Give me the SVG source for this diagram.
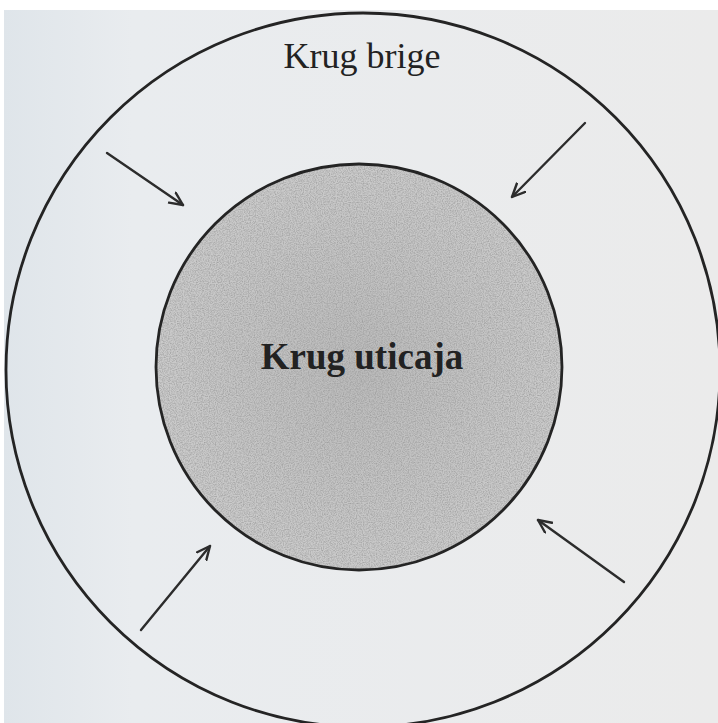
<svg xmlns="http://www.w3.org/2000/svg" width="718" height="723" viewBox="0 0 718 723">
  <style>
    .ring { fill: none; stroke: #242424; stroke-width: 2.8; }
    .arrow { fill: none; stroke: #2c2c2c; stroke-width: 2.4; stroke-linecap: round; marker-end: url(#vhead); }
    .label { font-family: "Liberation Serif", "DejaVu Serif", serif; fill: #222222; text-anchor: middle; }
  </style>
  <defs>
    <marker id="vhead" markerUnits="userSpaceOnUse" markerWidth="18" markerHeight="16" refX="14" refY="7" orient="auto">
      <path d="M1,1 L14,7 L1,13" fill="none" stroke="#2c2c2c" stroke-width="2.4" stroke-linecap="round" stroke-linejoin="round"/>
    </marker>
    <linearGradient id="paper" x1="0" y1="0" x2="1" y2="0">
      <stop offset="0" stop-color="#dfe5ea"/>
      <stop offset="0.18" stop-color="#e9ecef"/>
      <stop offset="1" stop-color="#ebebeb"/>
    </linearGradient>
    <radialGradient id="core" cx="0.5" cy="0.5" r="0.5">
      <stop offset="0" stop-color="#bababa"/>
      <stop offset="1" stop-color="#cbcbcb"/>
    </radialGradient>
    <filter id="grain" x="0" y="0" width="100%" height="100%">
      <feTurbulence type="fractalNoise" baseFrequency="0.85" numOctaves="2" seed="7" result="n"/>
      <feColorMatrix in="n" type="matrix" values="0 0 0 0 0.3  0 0 0 0 0.3  0 0 0 0 0.3  0 0 0 1.4 -0.5" result="g"/>
      <feComposite in="g" in2="SourceGraphic" operator="in"/>
    </filter>
  </defs>

  <!-- sheet -->
  <rect x="0" y="0" width="718" height="723" fill="#ffffff"/>
  <rect x="4" y="10" width="714" height="713" fill="url(#paper)"/>

  <!-- outer ring -->
  <g id="krug-brige">
    <circle class="ring" cx="363" cy="370" r="357"/>
    <text class="label" x="362" y="68" font-size="36">Krug brige</text>
  </g>

  <!-- inner disc -->
  <g id="krug-uticaja">
    <circle cx="359" cy="367" r="203" fill="url(#core)"/>
    <circle cx="359" cy="367" r="203" fill="#000" filter="url(#grain)"/>
    <circle class="ring" cx="359" cy="367" r="203"/>
    <text class="label" x="362" y="369" font-size="37" font-weight="bold">Krug uticaja</text>
  </g>

  <!-- arrows pointing inward -->
  <g id="connectors">
    <line class="arrow" x1="107" y1="153" x2="183" y2="205"/>
    <line class="arrow" x1="585" y1="123" x2="512" y2="197"/>
    <line class="arrow" x1="141" y1="630" x2="210" y2="546"/>
    <line class="arrow" x1="624" y1="582" x2="538" y2="520"/>
  </g>
</svg>
